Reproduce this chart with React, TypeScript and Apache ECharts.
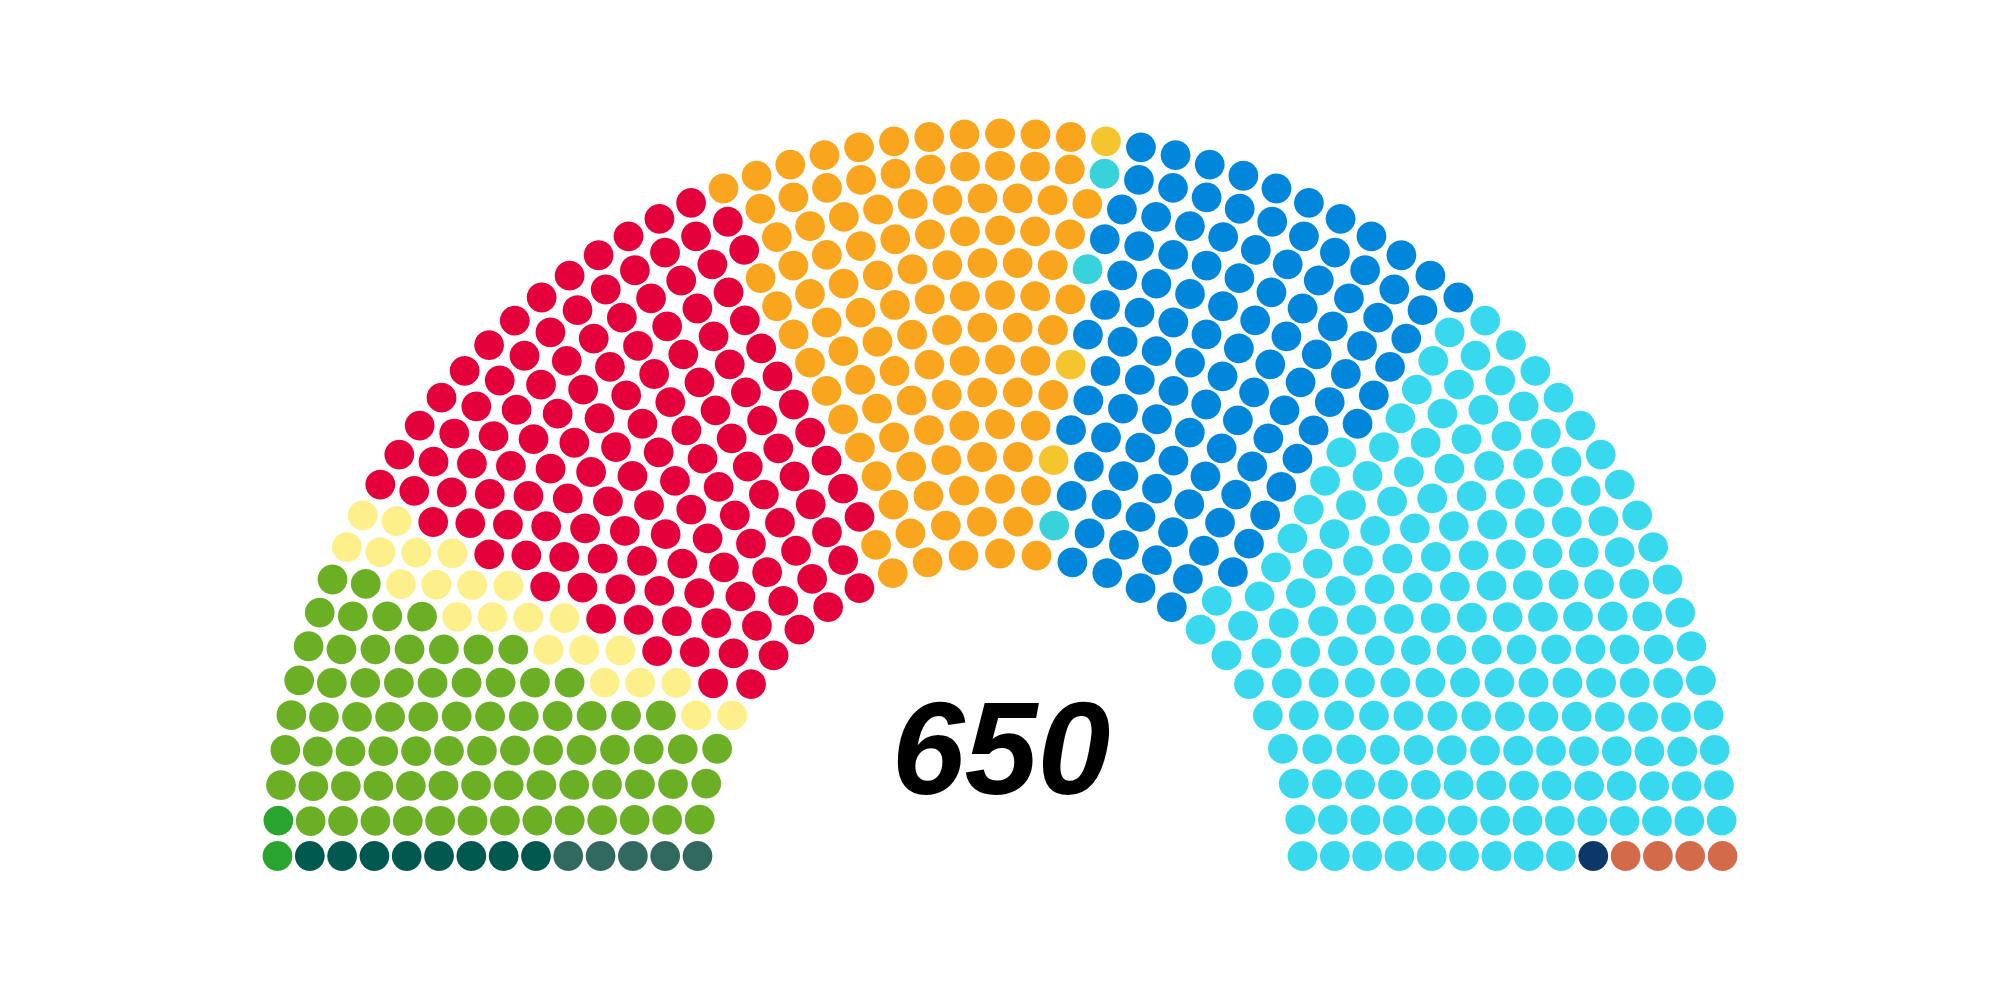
import React, { useEffect, useRef } from 'react';
import * as echarts from 'echarts';

// Parties in seating order (left to right)
const partyNames = [
  'Grey green',
  'Dark green',
  'Green',
  'Lime',
  'Pale yellow',
  'Red',
  'Orange',
  'Yellow',
  'Turquoise',
  'Blue',
  'Cyan',
  'Navy',
  'Terracotta',
];
const partySeats = [5, 8, 2, 75, 22, 133, 107, 3, 3, 108, 179, 1, 4];
const partyColors = [
  '#32695f',
  '#00594f',
  '#29a52f',
  '#6aaf24',
  '#fdf08a',
  '#e4003b',
  '#f9a51d',
  '#f5c52e',
  '#38d2db',
  '#0087dc',
  '#38d8ee',
  '#0b3866',
  '#d36b4b',
];
// Seats per ring, from the innermost ring to the outermost one
const ringSeats = [27, 30, 33, 36, 39, 42, 45, 48, 51, 54, 57, 60, 63, 65];
const totalLabel = '650';

// Layout constants (pixels)
const CX = 1000;
const CY = 856;
const R_IN = 302.5;
const R_OUT = 722.5;
const SEAT_SIZE = 29.8;

type Seat = { ring: number; k: number; n: number; r: number };

function buildSeries() {
  const seats: Seat[] = [];
  const step = (R_OUT - R_IN) / (ringSeats.length - 1);
  ringSeats.forEach((n, ring) => {
    for (let k = 0; k < n; k++) seats.push({ ring, k, n, r: R_IN + ring * step });
  });
  // order by angle from the left end, ties: inner ring first
  seats.sort((a, b) => {
    const d = a.k * (b.n - 1) - b.k * (a.n - 1);
    return d !== 0 ? d : a.ring - b.ring;
  });
  let idx = 0;
  return partyNames.map((name, p) => {
    const data: number[][] = [];
    for (let i = 0; i < partySeats[p]; i++) {
      const s = seats[idx++];
      if (!s) break;
      const angle = 180 - (s.k * 180) / (s.n - 1);
      data.push([s.r, angle]);
    }
    return {
      name,
      type: 'scatter',
      coordinateSystem: 'polar',
      symbol: 'circle',
      symbolSize: SEAT_SIZE,
      itemStyle: { color: partyColors[p], opacity: 1 },
      silent: true,
      data,
    };
  });
}

export default function App() {
  const ref = useRef<HTMLDivElement>(null);
  useEffect(() => {
    if (!ref.current) return;
    const chart = echarts.init(ref.current, undefined, { renderer: 'svg' });
    chart.setOption({
      animation: false,
      backgroundColor: '#ffffff',
      polar: { center: [CX, CY], radius: 800 },
      radiusAxis: { type: 'value', min: 0, max: 800, show: false },
      angleAxis: {
        type: 'value',
        min: 0,
        max: 360,
        startAngle: 0,
        clockwise: false,
        show: false,
      },
      series: buildSeries(),
      graphic: [
        {
          type: 'text',
          x: CX + 1,
          y: 748,
          style: {
            text: totalLabel,
            fill: '#000000',
            font: 'italic bold 131px "Liberation Sans", Arial, sans-serif',
            textAlign: 'center',
            textVerticalAlign: 'middle',
          },
        },
      ],
    });
    return () => chart.dispose();
  }, []);
  return (
    <div
      ref={ref}
      style={{ position: 'fixed', left: 0, top: 0, width: '2000px', height: '1000px' }}
    />
  );
}
